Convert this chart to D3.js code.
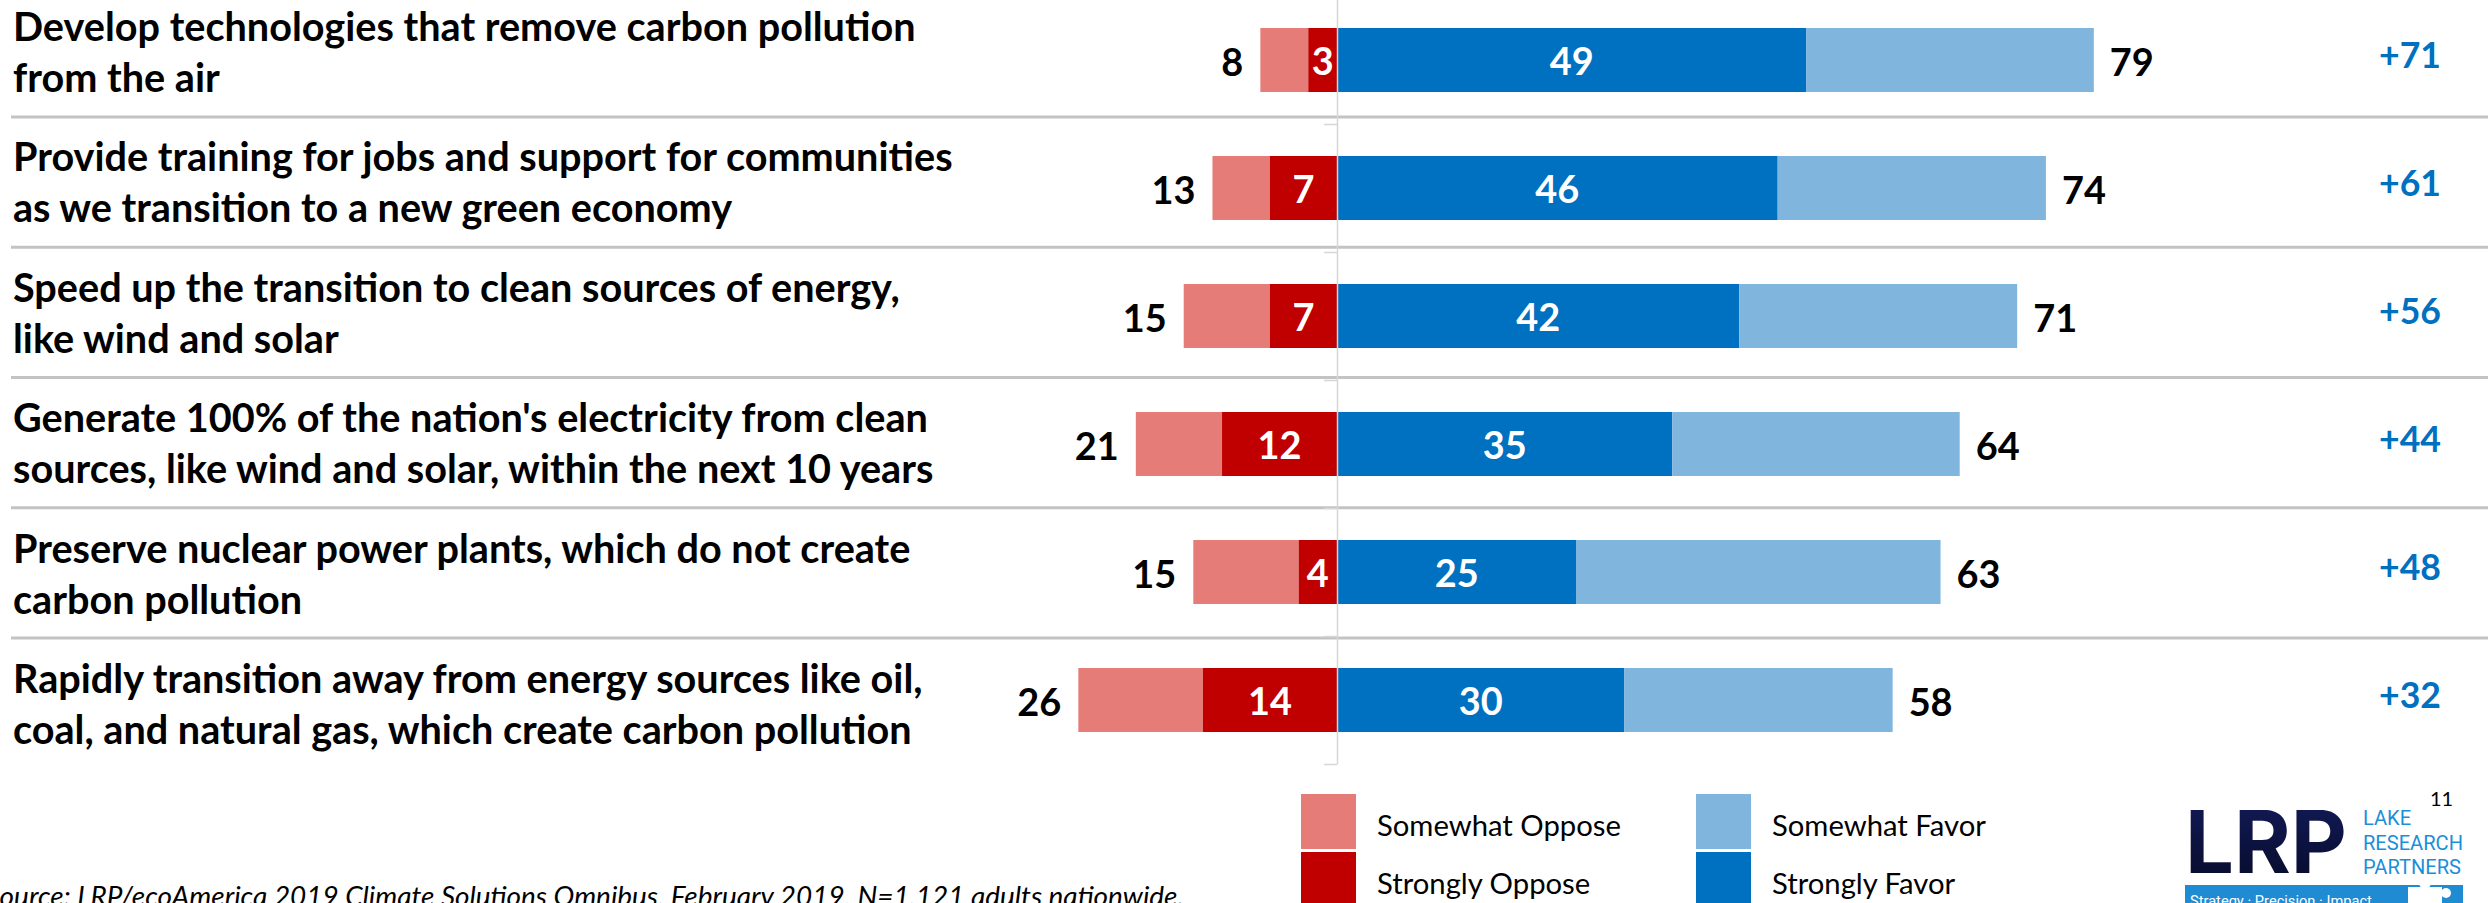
<!DOCTYPE html>
<html><head><meta charset="utf-8">
<script src="https://cdn.jsdelivr.net/npm/d3@7"></script>
<style>html,body{margin:0;padding:0;background:#fff;overflow:hidden}</style>
</head><body>
<svg id="chart" width="2488" height="903" xmlns="http://www.w3.org/2000/svg"></svg>
<script>
// ---------- data ----------
const categories = [
  ["Develop technologies that remove carbon pollution", "from the air"],
  ["Provide training for jobs and support for communities", "as we transition to a new green economy"],
  ["Speed up the transition to clean sources of energy,", "like wind and solar"],
  ["Generate 100% of the nation's electricity from clean", "sources, like wind and solar, within the next 10 years"],
  ["Preserve nuclear power plants, which do not create", "carbon pollution"],
  ["Rapidly transition away from energy sources like oil,", "coal, and natural gas, which create carbon pollution"]
];
const opposeStrong   = [3, 7, 7, 12, 4, 14];
const opposeSomewhat = [5, 6, 9, 9, 11, 13];
const favorStrong    = [49, 46, 42, 35, 25, 30];
const favorSomewhat  = [30, 28, 29, 30, 38, 28];
const opposeTotalLabels = [8, 13, 15, 21, 15, 26];
const favorTotalLabels  = [79, 74, 71, 64, 63, 58];
const netLabels = ["+71", "+61", "+56", "+44", "+48", "+32"];
const legendLabels = ["Somewhat Oppose", "Strongly Oppose", "Somewhat Favor", "Strongly Favor"];
const sourceText = "Source: LRP/ecoAmerica 2019 Climate Solutions Omnibus, February 2019, N=1,121 adults nationwide.";
const pageNumber = "11";
const logoLines = ["LAKE", "RESEARCH", "PARTNERS"];
const logoTagline = "Strategy \u00B7 Precision \u00B7 Impact";

// ---------- style ----------
const C = {
  somewhatOppose: "#E67C78",
  stronglyOppose: "#C00000",
  stronglyFavor: "#0070C0",
  somewhatFavor: "#80B6DE",
  net: "#0070C0",
  sep: "#C3C3C3",
  axis: "#D6D6D6"
};
const FONT = "Lato, 'Open Sans', sans-serif";
const LOGO_FONT = "'Liberation Sans Narrow', Inter, Roboto, sans-serif";

const svg = d3.select("#chart");
svg.append("rect").attr("width", 2488).attr("height", 903).attr("fill", "#fff");

function fitSize(str, weight, style, base, target, family) {
  const t = svg.append("text").attr("font-family", family || FONT).attr("font-weight", weight)
    .attr("font-style", style).attr("font-size", base).text(str);
  const w = t.node().getComputedTextLength();
  t.remove();
  return base * target / w;
}

// ---------- scales ----------
const x = d3.scaleLinear().domain([-40, 90]).range([1337 - 383.2, 1337 + 862.2]);
const idx = d3.range(categories.length);
const y = d3.scaleBand().domain(idx).range([-4, 764]).paddingInner(0.5).paddingOuter(0.25);
const yAxisScale = d3.scaleLinear().domain([0, categories.length]).range([-4, 764]);

// ---------- separators ----------
const sepY = d3.range(categories.length - 1).map(i => 117 + i * 130.25);
svg.append("g").selectAll("line").data(sepY).join("line")
  .attr("x1", 11).attr("x2", 2488).attr("y1", d => d).attr("y2", d => d)
  .attr("stroke", C.sep).attr("stroke-width", 3);

// ---------- row labels ----------
const labelFs = fitSize(categories[3][0], 700, "normal", 32, 915);
const lab = svg.append("g").attr("font-family", FONT).attr("font-weight", 700)
  .attr("font-size", labelFs).attr("fill", "#000");
categories.forEach((lines, i) => {
  const b1 = 41 + i * 130.4;
  lines.forEach((ln, j) => {
    lab.append("text").attr("x", 13).attr("y", b1 + j * 51).text(ln);
  });
});

// ---------- bars ----------
const rows = idx.map(i => ({
  i,
  segs: [
    { a: -(opposeStrong[i] + opposeSomewhat[i]), b: -opposeStrong[i], c: C.somewhatOppose },
    { a: -opposeStrong[i], b: 0, c: C.stronglyOppose, label: opposeStrong[i] },
    { a: 0, b: favorStrong[i], c: C.stronglyFavor, label: favorStrong[i] },
    { a: favorStrong[i], b: favorStrong[i] + favorSomewhat[i], c: C.somewhatFavor }
  ]
}));
const numFs = fitSize("79", 700, "normal", 40, 44);
const netFs = fitSize("+71", 700, "normal", 40, 62);
const rowG = svg.append("g").selectAll("g").data(rows).join("g");
rowG.selectAll("rect").data(d => d.segs.map(s => ({ ...s, i: d.i }))).join("rect")
  .attr("x", s => x(s.a)).attr("width", s => x(s.b) - x(s.a))
  .attr("y", s => y(s.i)).attr("height", y.bandwidth())
  .attr("fill", s => s.c);
rowG.selectAll("text.in").data(d => d.segs.filter(s => s.label != null).map(s => ({ ...s, i: d.i })))
  .join("text").attr("class", "in")
  .attr("x", s => (x(s.a) + x(s.b)) / 2)
  .attr("y", s => y(s.i) + y.bandwidth() / 2 + 1 + numFs * 0.36)
  .attr("text-anchor", "middle").attr("font-family", FONT).attr("font-weight", 700)
  .attr("font-size", numFs).attr("fill", "#fff").text(s => s.label);

// outer totals
rowG.append("text")
  .attr("x", d => x(-(opposeStrong[d.i] + opposeSomewhat[d.i])) - 17)
  .attr("y", d => y(d.i) + y.bandwidth() / 2 + 2 + numFs * 0.36)
  .attr("text-anchor", "end").attr("font-family", FONT).attr("font-weight", 700)
  .attr("font-size", numFs).attr("fill", "#000").text(d => opposeTotalLabels[d.i]);
rowG.append("text")
  .attr("x", d => x(favorStrong[d.i] + favorSomewhat[d.i]) + 16)
  .attr("y", d => y(d.i) + y.bandwidth() / 2 + 2 + numFs * 0.36)
  .attr("text-anchor", "start").attr("font-family", FONT).attr("font-weight", 700)
  .attr("font-size", numFs).attr("fill", "#000").text(d => favorTotalLabels[d.i]);
// net
rowG.append("text")
  .attr("x", 2441)
  .attr("y", d => y(d.i) + y.bandwidth() / 2 - 5 + netFs * 0.36)
  .attr("text-anchor", "end").attr("font-family", FONT).attr("font-weight", 700)
  .attr("font-size", netFs).attr("fill", C.net).text(d => netLabels[d.i]);

// ---------- axis ----------
const ax = svg.append("g").attr("transform", `translate(${x(0)},0)`)
  .call(d3.axisLeft(yAxisScale).tickValues(d3.range(1, categories.length + 1))
    .tickSize(13).tickSizeOuter(0).tickFormat(""));
ax.selectAll("path,line").attr("stroke", C.axis).attr("stroke-width", 1.5);

// ---------- legend ----------
const legFs = fitSize(legendLabels[0], 400, "normal", 28, 244);
const legendPos = [
  { x: 1301, y: 794, c: C.somewhatOppose },
  { x: 1301, y: 852, c: C.stronglyOppose },
  { x: 1696, y: 794, c: C.somewhatFavor },
  { x: 1696, y: 852, c: C.stronglyFavor }
];
const leg = svg.append("g").selectAll("g").data(legendLabels).join("g")
  .attr("transform", (d, i) => `translate(${legendPos[i].x},${legendPos[i].y})`);
leg.append("rect").attr("width", 55).attr("height", 55).attr("fill", (d, i) => legendPos[i].c);
leg.append("text").attr("x", 76).attr("y", 31 + legFs * 0.36)
  .attr("font-family", FONT).attr("font-size", legFs).attr("fill", "#000").text(d => d);

// ---------- source ----------
const srcFs = fitSize(sourceText, 400, "italic", 27, 1199);
svg.append("text").attr("x", 1184).attr("y", 906).attr("text-anchor", "end")
  .attr("font-family", FONT).attr("font-style", "italic").attr("font-size", srcFs)
  .attr("fill", "#000").text(sourceText);

// ---------- logo ----------
const defs = svg.append("defs");
const grad = defs.append("linearGradient").attr("id", "lrpGrad").attr("x1", 0).attr("y1", 0).attr("x2", 0).attr("y2", 1);
grad.append("stop").attr("offset", "0%").attr("stop-color", "#141c5c");
grad.append("stop").attr("offset", "100%").attr("stop-color", "#050a25");
const lrpFs = fitSize("LRP", 700, "normal", 97, 162, LOGO_FONT);
svg.append("text").attr("x", 2185).attr("y", 873)
  .attr("font-family", LOGO_FONT).attr("font-weight", 700).attr("font-size", lrpFs)
  .attr("fill", "url(#lrpGrad)").text("LRP");
const lakeFs = fitSize("RESEARCH", 400, "normal", 18, 100, "Roboto, sans-serif");
svg.append("g").selectAll("text").data(logoLines).join("text")
  .attr("x", 2363).attr("y", (d, i) => 825 + i * 24.5)
  .attr("font-family", "Roboto, sans-serif").attr("font-size", lakeFs)
  .attr("fill", "#1A8FD8").text(d => d);
svg.append("text").attr("x", 2430).attr("y", 806)
  .attr("font-family", FONT).attr("font-size", 20).attr("fill", "#000").text(pageNumber);
svg.append("rect").attr("x", 2185).attr("y", 885).attr("width", 278).attr("height", 18).attr("fill", "#1E8BD3");
const tagFs = fitSize(logoTagline, 400, "normal", 17, 182, "Roboto, sans-serif");
svg.append("text").attr("x", 2190).attr("y", 906)
  .attr("font-family", "Roboto, sans-serif").attr("font-size", tagFs).attr("fill", "#fff").text(logoTagline);
// puzzle piece
const pz = svg.append("g").attr("fill", "#fff");
pz.append("rect").attr("x", 2408).attr("y", 887).attr("width", 34).attr("height", 16);
pz.append("circle").attr("cx", 2425).attr("cy", 883).attr("r", 6);
pz.append("circle").attr("cx", 2446).attr("cy", 893).attr("r", 5);
</script>
</body></html>
